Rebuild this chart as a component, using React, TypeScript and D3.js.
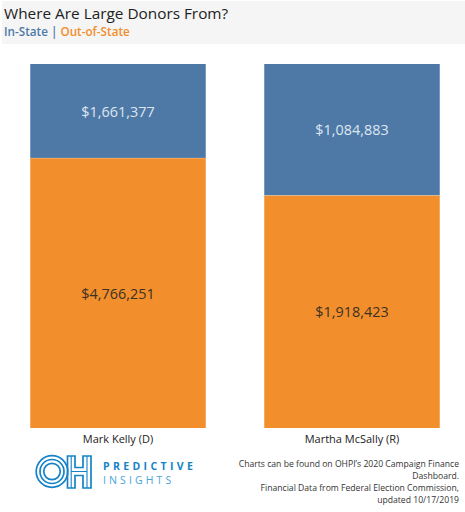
import React from "react";
import * as d3 from "d3";

const candidates = ["Mark Kelly (D)", "Martha McSally (R)"];
const inState = [1661377, 1084883];
const outOfState = [4766251, 1918423];
const footnote = [
  "Charts can be found on OHPI\u2019s 2020 Campaign Finance",
  "Dashboard.",
  "Financial Data from Federal Election Commission,",
  "updated 10/17/2019",
];

const W = 465, H = 512;
const FONT = "'Open Sans', sans-serif";
const BLUE = "#4e79a7", ORANGE = "#f28e2b";
const fmt = d3.format("$,");

export default function App() {
  const x = d3.scaleBand<string>().domain(candidates).range([1, 469]).paddingInner(0.25).paddingOuter(0.125);
  const y = d3.scaleLinear().domain([0, 1]).range([64, 428]);
  return (
    <svg width={W} height={H} viewBox={`0 0 ${W} ${H}`} style={{ position: "absolute", left: 0, top: 0, background: "#fff" }} fontFamily={FONT}>
      <rect x={2} y={1} width={463} height={43} fill="#f5f5f5" />
      <text x={4} y={19} fontSize={15.35} fill="#222">Where Are Large Donors From?</text>
      <text x={4} y={36} fontSize={11.7} fontWeight={600}>
        <tspan fill={BLUE}>In-State</tspan>
        <tspan fill={BLUE}> | </tspan>
        <tspan fill={ORANGE}>Out-of-State</tspan>
      </text>
      {candidates.map((c, i) => {
        const total = inState[i] + outOfState[i];
        const share = inState[i] / total;
        const bx = x(c)!;
        const bw = x.bandwidth();
        const cx = bx + bw / 2;
        return (
          <g key={c}>
            <rect x={bx} y={y(0)} width={bw} height={y(share) - y(0)} fill={BLUE} />
            <rect x={bx} y={y(share)} width={bw} height={y(1) - y(share)} fill={ORANGE} />
            <line x1={bx} x2={bx + bw} y1={y(share)} y2={y(share)} stroke="#fff" strokeOpacity={0.3} strokeWidth={0.7} />
            <text x={cx} y={y(share / 2) + 5.5} textAnchor="middle" fontSize={14.4} fill="#dde6ef">{fmt(inState[i])}</text>
            <text x={cx} y={y((1 + share) / 2) + 5.5} textAnchor="middle" fontSize={14.4} fill="#3a3226">{fmt(outOfState[i])}</text>
            <text x={cx} y={443} textAnchor="middle" fontSize={11} fill="#222">{c}</text>
          </g>
        );
      })}
      <g fill="none" stroke="#1583c6" strokeWidth={1.7}>
        <circle cx={52} cy={471.5} r={15.8} />
        <circle cx={52} cy={471.5} r={12} />
        <circle cx={52} cy={471.5} r={8.2} />
        <path d="M67.5 456 H75 V467.5 H83 V456 H91 V488 H83 V475.5 H75 V488 H67.5 Z" />
        <path d="M71.2 456 V488 M87 456 V488 M71.2 471.5 H87" strokeWidth={1.1} />
      </g>
      <text x={103} y={470} fontSize={10.5} fontWeight={700} letterSpacing={3.35} fill="#1583c6">PREDICTIVE</text>
      <text x={103} y={484} fontSize={10.5} letterSpacing={3.1} fill="#4aa3d8">INSIGHTS</text>
      {footnote.map((t, i) => (
        <text key={i} x={459} y={467 + i * 12} textAnchor="end" fontSize={8.65} fill="#333">{t}</text>
      ))}
    </svg>
  );
}
